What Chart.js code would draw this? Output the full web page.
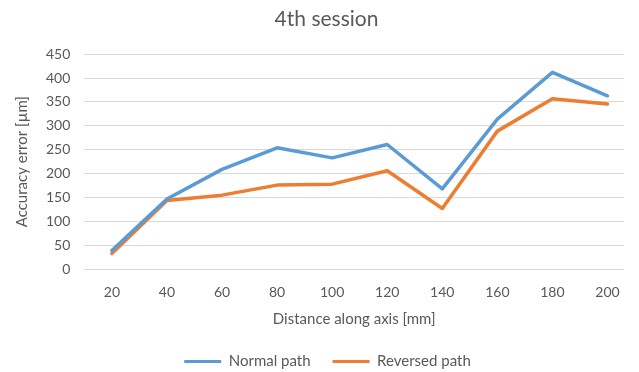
<!DOCTYPE html>
<html>
<head>
<meta charset="utf-8">
<script src="https://cdn.jsdelivr.net/npm/chart.js@4/dist/chart.umd.min.js"></script>
<style>
  html, body { margin: 0; padding: 0; background: #fff; }
  #wrap { width: 639px; height: 372px; }
</style>
</head>
<body>
<div id="wrap"><canvas id="chart"></canvas></div>
<script>
const distances = [20, 40, 60, 80, 100, 120, 140, 160, 180, 200];
const normalPath = [39, 147, 209, 254, 233, 261, 168, 314, 412, 363];
const reversedPath = [33, 144, 155, 176, 178, 206, 127, 289, 357, 346];
const seriesNames = ["Normal path", "Reversed path"];

const textColor = "#595959";
const font = "Lato";

function pairs(vals) {
  return distances.map((d, i) => ({ x: d, y: vals[i] }));
}

// nudge title + legend a bit right, like excel centres them
const nudge = {
  id: "nudge",
  afterLayout(chart) {
    chart.legend.left += 9;
    chart.legend.right += 9;
    chart.titleBlock.left += 8;
    chart.titleBlock.right += 8;
  },
};

new Chart(document.getElementById("chart"), {
  type: "line",
  data: {
    datasets: [
      {
        label: seriesNames[0],
        data: pairs(normalPath),
        borderColor: "#5B9BD5",
        backgroundColor: "#5B9BD5",
      },
      {
        label: seriesNames[1],
        data: pairs(reversedPath),
        borderColor: "#ED7D31",
        backgroundColor: "#ED7D31",
      },
    ],
  },
  plugins: [nudge],
  options: {
    responsive: true,
    maintainAspectRatio: false,
    animation: false,
    layout: { padding: { left: 13, right: 15, top: 4, bottom: -7 } },
    elements: {
      line: { borderWidth: 3.5, tension: 0, borderCapStyle: "round", borderJoinStyle: "round" },
      point: { radius: 0 },
    },
    plugins: {
      title: {
        display: true,
        text: "4th session",
        color: textColor,
        font: { family: font, size: 21, weight: "normal" },
        padding: { top: 3, bottom: 22 },
      },
      legend: {
        position: "bottom",
        labels: {
          color: textColor,
          font: { family: font, size: 15 },
          boxWidth: 37,
          boxHeight: 3,
          padding: 22,
          // plain strip of colour, no outline
          generateLabels: (chart) =>
            chart.data.datasets.map((ds, i) => ({
              text: ds.label,
              fillStyle: ds.borderColor,
              strokeStyle: ds.borderColor,
              lineWidth: 0,
              fontColor: textColor,
              datasetIndex: i,
              hidden: false,
            })),
        },
      },
      tooltip: { enabled: false },
    },
    scales: {
      x: {
        type: "linear",
        min: 10,
        max: 206,
        afterBuildTicks: (axis) => {
          axis.ticks = distances.map((v) => ({ value: v }));
        },
        grid: { display: false },
        border: { display: false },
        ticks: { color: textColor, font: { family: font, size: 14 }, padding: 7, maxRotation: 0 },
        title: {
          display: true,
          text: "Distance along axis [mm]",
          color: textColor,
          font: { family: font, size: 15 },
          padding: { top: 2, bottom: 4 },
        },
      },
      y: {
        min: 0,
        max: 450,
        ticks: { stepSize: 50, color: textColor, font: { family: font, size: 14 }, padding: 14 },
        grid: { color: "#D9D9D9", lineWidth: 1, drawTicks: false },
        border: { display: false },
        title: {
          display: true,
          text: "Accuracy error [µm]",
          color: textColor,
          font: { family: font, size: 15 },
          padding: { top: 0, bottom: 1 },
        },
      },
    },
  },
});
</script>
</body>
</html>
